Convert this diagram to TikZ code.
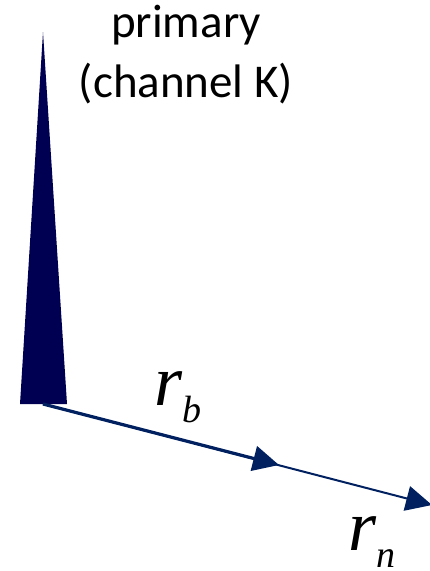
\documentclass[tikz,border=0pt]{standalone}
\usepackage{fontspec}
\setmainfont{Carlito}
\newfontfamily\timesfont{Liberation Serif}
\usetikzlibrary{positioning,arrows.meta}
\definecolor{colSpike}{RGB}{0,0,82}
\definecolor{colArrow}{RGB}{0,32,96}

\begin{document}
\begin{tikzpicture}[
    x=1pt, y=-1pt,
    every node/.style={align=center, inner sep=0pt},
    ray/.style={colArrow, line width=2pt, -{Triangle[length=26pt, width=25pt]}},
    lbl/.style={font=\fontsize{47}{60}\selectfont},
    sym/.style={font=\timesfont\fontsize{72}{72}\selectfont\itshape, anchor=base west}
]
    \useasboundingbox (0,0) rectangle (430,571);

    % spike of the primary
    \fill[colSpike] (20,404) -- (43,32) -- (67,404) -- cycle;
    \node[lbl, anchor=base] (prim) at (186,97) {primary\\(channel K)};

    \coordinate (org) at (43,404);
    \coordinate (tipb) at (279,465);
    \coordinate (tipn) at (432,505);

    \draw[ray] (org) -- (tipn);
    \draw[ray, line width=3.2pt] (org) -- (tipb);

    \node[sym] (rb) at (154,405) {r\raisebox{-0.24em}{\fontsize{38}{38}\selectfont b}};
    \node[sym] (rn) at (348,550) {r\raisebox{-0.24em}{\fontsize{38}{38}\selectfont n}};
\end{tikzpicture}
\end{document}
